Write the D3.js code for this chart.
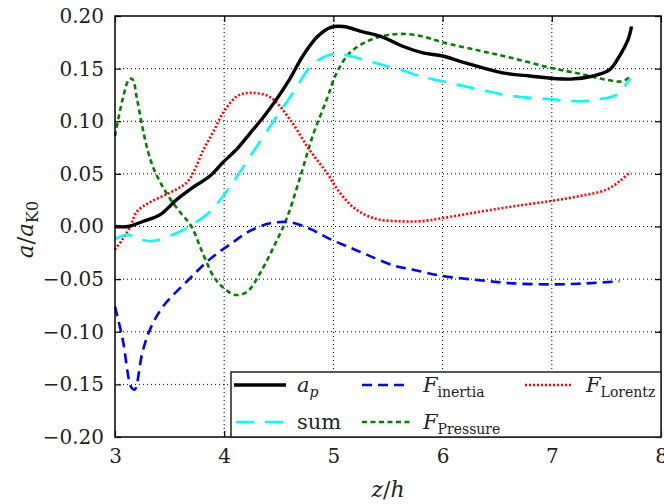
<!DOCTYPE html>
<html><head><meta charset="utf-8">
<script src="https://cdn.jsdelivr.net/npm/d3@7"></script>
<style>body{margin:0;background:#fff}svg{display:block}svg text{font-family:"DejaVu Serif","Liberation Serif",serif !important}</style>
</head><body>
<script>
const xTicks=[3,4,5,6,7,8];
const yTicks=[-0.20,-0.15,-0.10,-0.05,0.00,0.05,0.10,0.15,0.20];
const apZ=[3.0,3.12,3.26,3.41,3.57,3.71,3.87,3.99,4.12,4.24,4.36,4.48,4.60,4.72,4.85,4.97,5.09,5.27,5.45,5.64,5.82,6.0,6.19,6.55,6.80,7.17,7.38,7.53,7.62,7.70,7.73];
const apV=[0,0,0.005,0.011,0.026,0.037,0.048,0.061,0.074,0.089,0.104,0.121,0.140,0.162,0.180,0.189,0.190,0.185,0.180,0.171,0.165,0.162,0.156,0.146,0.143,0.140,0.143,0.149,0.162,0.178,0.190];
const sumZ=[3.0,3.11,3.32,3.59,3.71,3.87,4.08,4.24,4.42,4.63,4.81,5.0,5.15,5.36,5.61,5.82,6.0,6.34,6.64,6.98,7.26,7.44,7.59,7.72];
const sumV=[-0.012,-0.008,-0.014,-0.005,0.002,0.014,0.042,0.067,0.095,0.127,0.154,0.164,0.162,0.156,0.149,0.142,0.138,0.130,0.124,0.121,0.119,0.121,0.125,0.141];
const inZ=[3.0,3.07,3.15,3.18,3.25,3.32,3.44,3.66,3.87,4.08,4.24,4.42,4.60,4.78,4.97,5.15,5.31,5.55,5.73,6.0,6.34,6.64,7.01,7.32,7.62];
const inV=[-0.076,-0.107,-0.153,-0.155,-0.120,-0.098,-0.076,-0.052,-0.031,-0.015,-0.004,0.003,0.004,-0.002,-0.012,-0.020,-0.027,-0.037,-0.041,-0.047,-0.051,-0.054,-0.055,-0.054,-0.052];
const prZ=[3.0,3.07,3.13,3.16,3.20,3.25,3.30,3.35,3.41,3.50,3.60,3.70,3.79,3.90,3.99,4.10,4.21,4.33,4.45,4.57,4.69,4.81,4.94,5.03,5.15,5.31,5.45,5.61,5.80,6.0,6.34,6.64,6.98,7.26,7.47,7.65,7.72];
const prV=[0.086,0.121,0.140,0.140,0.122,0.095,0.072,0.056,0.043,0.027,0.013,0.0,-0.022,-0.047,-0.058,-0.065,-0.062,-0.044,-0.020,0.007,0.045,0.086,0.121,0.146,0.165,0.176,0.181,0.183,0.181,0.175,0.167,0.160,0.151,0.145,0.140,0.138,0.143];
const loZ=[3.0,3.07,3.14,3.20,3.32,3.50,3.66,3.73,3.81,3.90,3.99,4.12,4.24,4.42,4.60,4.78,4.94,5.06,5.21,5.40,5.61,5.80,6.0,6.34,6.64,6.98,7.26,7.50,7.62,7.72];
const loV=[-0.022,-0.012,0.0,0.014,0.023,0.032,0.042,0.054,0.073,0.090,0.108,0.124,0.127,0.123,0.102,0.073,0.051,0.032,0.016,0.007,0.005,0.005,0.008,0.014,0.019,0.024,0.029,0.035,0.043,0.052];

const W=664,H=504,L=115,R=661,T=16,B=437;
const svg=d3.select("body").append("svg").attr("width",W).attr("height",H);
const x=d3.scaleLinear().domain([3,8]).range([L,R]);
const y=d3.scaleLinear().domain([-0.2,0.2]).range([B,T]);

// grid
const g=svg.append("g");
g.selectAll(".vg").data(xTicks.slice(1,-1)).join("line").attr("x1",d=>x(d)).attr("x2",d=>x(d)).attr("y1",T).attr("y2",B)
 .attr("stroke","#000").attr("stroke-width",1).attr("stroke-dasharray","1,3");
g.selectAll(".hg").data(yTicks.slice(1,-1)).join("line").attr("x1",L).attr("x2",R).attr("y1",d=>y(d)).attr("y2",d=>y(d))
 .attr("stroke","#000").attr("stroke-width",1).attr("stroke-dasharray","1,3");

// axes with inward ticks
const ax=svg.append("g");
ax.append("g").attr("transform",`translate(0,${B})`).call(d3.axisBottom(x).tickValues(xTicks).tickSize(-6).tickPadding(12).tickFormat(d3.format("d")));
ax.append("g").attr("transform",`translate(0,${T})`).call(d3.axisTop(x).tickValues(xTicks).tickSize(-6).tickFormat(""));
ax.append("g").attr("transform",`translate(${L},0)`).call(d3.axisLeft(y).tickValues(yTicks).tickSize(-6).tickPadding(11).tickFormat(d3.format(".2f")));
ax.append("g").attr("transform",`translate(${R},0)`).call(d3.axisRight(y).tickValues(yTicks).tickSize(-6).tickFormat(""));
ax.selectAll(".domain").remove();
ax.selectAll(".tick line").attr("stroke","#000").attr("stroke-width",1.2);
ax.selectAll(".tick text").attr("font-size",20).attr("fill","#222");

// curves
const line=d3.line().x(d=>x(d[0])).y(d=>y(d[1])).curve(d3.curveCatmullRom.alpha(0.5));
const series=[
 {z:prZ,v:prV,c:"#008000",w:2.6,da:"5,3.5"},
 {z:loZ,v:loV,c:"#ff0000",w:2.6,da:"2,2"},
 {z:inZ,v:inV,c:"#0000ff",w:2.6,da:"10,6"},
 {z:sumZ,v:sumV,c:"#00ffff",w:2.6,da:"18,11"},
 {z:apZ,v:apV,c:"#000000",w:3.4,da:null}
];
const cg=svg.append("g");
series.forEach(s=>{
 cg.append("path").datum(s.z.map((z,i)=>[z,s.v[i]])).attr("d",line).attr("fill","none")
  .attr("stroke",s.c).attr("stroke-width",s.w).attr("stroke-dasharray",s.da);
});

// frame
svg.append("rect").attr("x",L).attr("y",T).attr("width",R-L).attr("height",B-T).attr("fill","none").attr("stroke","#000").attr("stroke-width",1.5);

// legend
const lg=svg.append("g");
lg.append("rect").attr("x",231).attr("y",372).attr("width",430).attr("height",65).attr("fill","#fff").attr("stroke","#222").attr("stroke-width",1.5);
const items=[
 {x1:234,x2:286,y:385,c:"#000",w:3.4,da:null,main:"a",sub:"p",subIt:true,tx:297},
 {x1:362,x2:410,y:385,c:"#0000ff",w:2.6,da:"10,6",main:"F",sub:"inertia",tx:423},
 {x1:525,x2:572,y:385,c:"#ff0000",w:2.6,da:"2,2",main:"F",sub:"Lorentz",tx:586},
 {x1:236,x2:286,y:422,c:"#00ffff",w:2.6,da:"18,11",plain:"sum",tx:297},
 {x1:362,x2:410,y:422,c:"#008000",w:2.6,da:"5,3.5",main:"F",sub:"Pressure",tx:423}
];
items.forEach(it=>{
 lg.append("line").attr("x1",it.x1).attr("x2",it.x2).attr("y1",it.y).attr("y2",it.y).attr("stroke",it.c).attr("stroke-width",it.w).attr("stroke-dasharray",it.da);
 const t=lg.append("text").attr("x",it.tx).attr("y",it.y+7).attr("font-size",21).attr("fill","#222");
 if(it.plain){t.text(it.plain);}
 else{
  t.append("tspan").attr("font-style","italic").text(it.main);
  t.append("tspan").attr("font-size",14).attr("dy",5).attr("font-style",it.subIt?"italic":"normal").text(it.sub);
 }
});

// axis labels
const xl=svg.append("text").attr("x",(L+R)/2).attr("y",497).attr("text-anchor","middle").attr("font-size",22).attr("fill","#222");
xl.append("tspan").attr("font-style","italic").text("z");
xl.append("tspan").text("/");
xl.append("tspan").attr("font-style","italic").text("h");
const yl=svg.append("text").attr("transform",`translate(33,${y(0)+3}) rotate(-90)`).attr("text-anchor","middle").attr("font-size",23).attr("fill","#222");
yl.append("tspan").attr("font-style","italic").text("a");
yl.append("tspan").text("/");
yl.append("tspan").attr("font-style","italic").text("a");
yl.append("tspan").attr("font-size",16).attr("dy",5).text("K0");
</script>
</body></html>
